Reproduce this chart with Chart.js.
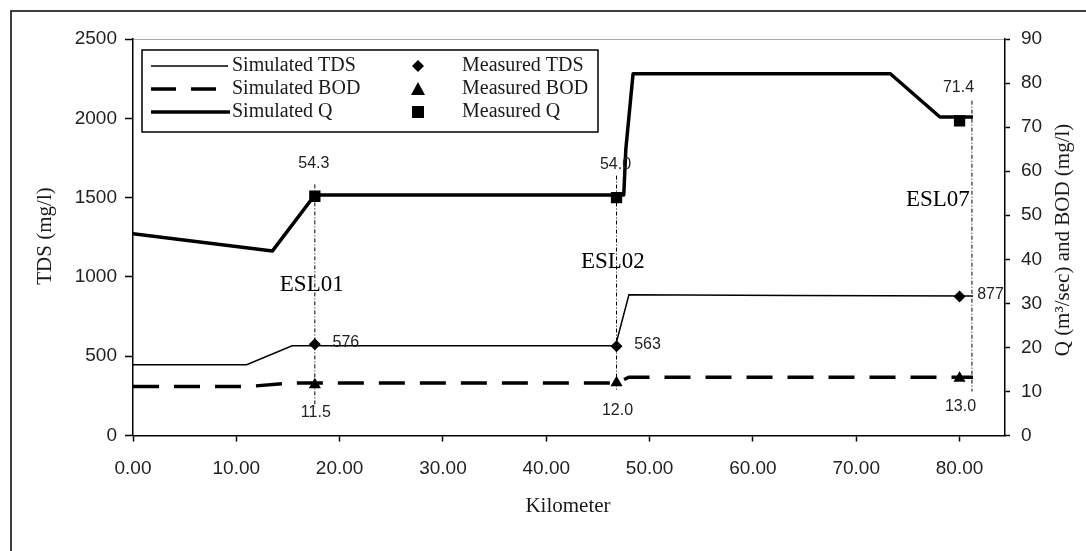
<!DOCTYPE html>
<html><head><meta charset="utf-8">
<script src="https://cdn.jsdelivr.net/npm/chart.js@4.4.0/dist/chart.umd.min.js"></script>
<style>html,body{margin:0;padding:0;background:#fff;}canvas{display:block;}</style>
</head><body>
<canvas id="c" width="1086" height="551"></canvas>
<script>
// ---- data ----
const tdsKm  = [0, 11.0, 15.4, 46.7, 48.0, 64.0, 81.3];
const tdsSim = [446, 446, 566, 566, 887, 883, 879];
const bodKm  = [0, 11.0, 15.4, 46.8, 48.0, 81.3];
const bodSim = [11.1, 11.1, 11.9, 11.9, 13.25, 13.25];
const qKm    = [0, 13.5, 17.6, 47.5, 47.7, 48.4, 73.3, 78.1, 81.3];
const qSim   = [45.8, 41.9, 54.6, 54.6, 65.0, 82.1, 82.1, 72.3, 72.3];
const stations  = ['ESL01', 'ESL02', 'ESL07'];
const stationKm = [17.6, 46.8, 80.0];
const measTDS = [576, 563, 877];
const measBOD = [11.5, 12.0, 13.0];
const measQ   = [54.3, 54.0, 71.4];
const guideKm  = [17.6, 46.8, 81.2];
const guideTop = [57, 59, 76];
const guideBot = [6.5, 10, 10];
const xTickStep = 10, tdsTickStep = 500, qTickStep = 10;

const xy = (xs, ys) => xs.map((x, i) => ({x: x, y: ys[i]}));

const TXT = '#1a1a1a';
const SERIF = '"Liberation Serif", "Times New Roman", serif';
const SANS = '"Liberation Sans", Arial, sans-serif';

const overlay = {
  id: 'overlay',
  beforeDraw(chart) {
    const ctx = chart.ctx, a = chart.chartArea;
    ctx.save();
    ctx.fillStyle = '#fff';
    ctx.fillRect(0, 0, chart.width, chart.height);
    ctx.strokeStyle = '#000'; ctx.lineWidth = 1.5;
    ctx.beginPath(); ctx.moveTo(11, chart.height); ctx.lineTo(11, 11); ctx.lineTo(chart.width, 11); ctx.stroke();
    ctx.strokeStyle = '#a8a8a8'; ctx.lineWidth = 1;
    ctx.beginPath(); ctx.moveTo(a.left, a.top + 0.5); ctx.lineTo(a.right, a.top + 0.5); ctx.stroke();
    ctx.restore();
  },
  afterDraw(chart) {
    const ctx = chart.ctx, xs = chart.scales.x, yL = chart.scales.y, yR = chart.scales.y1;
    ctx.save();
    // value labels
    ctx.font = '16px ' + SANS; ctx.fillStyle = '#222'; ctx.textAlign = 'center'; ctx.textBaseline = 'middle';
    stationKm.forEach((km, i) => {
      const px = xs.getPixelForValue(km);
      ctx.fillText(measQ[i].toFixed(1), px - 1, yR.getPixelForValue(measQ[i]) - 33);
      ctx.fillText(String(measTDS[i]), px + 31, yL.getPixelForValue(measTDS[i]) - 2);
      ctx.fillText(measBOD[i].toFixed(1), px + 1, yR.getPixelForValue(measBOD[i]) + 28);
    });
    // station names
    const stPos = [[17.3, 34.2], [46.45, 39.3], [77.9, 53.5]];
    ctx.font = '23px ' + SERIF; ctx.fillStyle = '#000';
    stations.forEach((s, i) => {
      ctx.fillText(s, xs.getPixelForValue(stPos[i][0]), yR.getPixelForValue(stPos[i][1]));
    });
    // axis titles
    ctx.fillStyle = TXT; ctx.font = '21px ' + SERIF;
    ctx.fillText('Kilometer', 568, 506);
    ctx.save(); ctx.translate(45, 236); ctx.rotate(-Math.PI / 2); ctx.fillText('TDS (mg/l)', 0, 0); ctx.restore();
    ctx.save(); ctx.translate(1063, 240); ctx.rotate(-Math.PI / 2); ctx.fillText('Q (m\u00B3/sec) and BOD (mg/l)', 0, 0); ctx.restore();
    // legend
    const L = {x: 142, y: 50, w: 456, h: 82};
    ctx.fillStyle = '#fff'; ctx.fillRect(L.x, L.y, L.w, L.h);
    ctx.strokeStyle = '#000'; ctx.lineWidth = 1.5; ctx.strokeRect(L.x, L.y, L.w, L.h);
    const rows = [66, 89, 112];
    const simNames = ['Simulated TDS', 'Simulated BOD', 'Simulated Q'];
    const measNames = ['Measured TDS', 'Measured BOD', 'Measured Q'];
    ctx.strokeStyle = '#000';
    ctx.lineWidth = 1.5; ctx.setLineDash([]);
    ctx.beginPath(); ctx.moveTo(151, rows[0]); ctx.lineTo(228, rows[0]); ctx.stroke();
    ctx.lineWidth = 3.5; ctx.setLineDash([25, 15]);
    ctx.beginPath(); ctx.moveTo(151, rows[1]); ctx.lineTo(218, rows[1]); ctx.stroke();
    ctx.setLineDash([]);
    ctx.beginPath(); ctx.moveTo(151, rows[2]); ctx.lineTo(230, rows[2]); ctx.stroke();
    ctx.fillStyle = '#000';
    const mx = 418;
    ctx.beginPath(); ctx.moveTo(mx, rows[0] - 6); ctx.lineTo(mx + 6, rows[0]); ctx.lineTo(mx, rows[0] + 6); ctx.lineTo(mx - 6, rows[0]); ctx.closePath(); ctx.fill();
    ctx.beginPath(); ctx.moveTo(mx, rows[1] - 7); ctx.lineTo(mx + 7, rows[1] + 6); ctx.lineTo(mx - 7, rows[1] + 6); ctx.closePath(); ctx.fill();
    ctx.fillRect(mx - 6, rows[2] - 6, 12, 12);
    ctx.font = '20px ' + SERIF; ctx.fillStyle = TXT; ctx.textAlign = 'left';
    simNames.forEach((t, i) => ctx.fillText(t, 232, rows[i]));
    measNames.forEach((t, i) => ctx.fillText(t, 462, rows[i]));
    ctx.restore();
  }
};

const guideSets = guideKm.map((km, i) => ({
  label: 'guide ' + stations[i], data: [{x: km, y: guideTop[i]}, {x: km, y: guideBot[i]}],
  yAxisID: 'y1', showLine: true, borderColor: '#000', borderWidth: 1, borderDash: [4, 2, 1, 2],
  pointRadius: 0, fill: false
}));

new Chart(document.getElementById('c'), {
  type: 'scatter',
  data: {
    datasets: [
      {label: 'Measured TDS', data: xy(stationKm, measTDS), yAxisID: 'y', pointStyle: 'rectRot', pointRadius: 6, backgroundColor: '#000', borderColor: '#000', borderWidth: 0},
      {label: 'Measured BOD', data: xy(stationKm, measBOD), yAxisID: 'y1', pointStyle: 'triangle', pointRadius: 7, backgroundColor: '#000', borderColor: '#000', borderWidth: 0},
      {label: 'Measured Q', data: xy(stationKm, measQ), yAxisID: 'y1', pointStyle: 'rect', pointRadius: 8, backgroundColor: '#000', borderColor: '#000', borderWidth: 0},
      {label: 'Simulated TDS', data: xy(tdsKm, tdsSim), yAxisID: 'y', showLine: true, borderColor: '#000', borderWidth: 1.5, pointRadius: 0, tension: 0},
      {label: 'Simulated BOD', data: xy(bodKm, bodSim), yAxisID: 'y1', showLine: true, borderColor: '#000', borderWidth: 3.5, borderDash: [26, 15], pointRadius: 0, tension: 0},
      {label: 'Simulated Q', data: xy(qKm, qSim), yAxisID: 'y1', showLine: true, borderColor: '#000', borderWidth: 3.5, pointRadius: 0, tension: 0, borderJoinStyle: 'round'},
      ...guideSets
    ]
  },
  options: {
    responsive: false, animation: false, devicePixelRatio: 1,
    layout: {padding: {top: 39, left: 0, right: 0, bottom: 0}},
    plugins: {legend: {display: false}, tooltip: {enabled: false}},
    scales: {
      x: {
        type: 'linear', min: 0, max: 84.4,
        afterFit(s) { s.height = 115.5; },
        ticks: {stepSize: xTickStep, includeBounds: false, color: '#222', font: {family: SANS, size: 19}, padding: 16, maxRotation: 0,
                callback: v => Number(v).toFixed(2)},
        grid: {drawOnChartArea: false, drawTicks: true, tickLength: 6, color: '#000', tickWidth: 1.5},
        border: {color: '#000', width: 1.5}
      },
      y: {
        type: 'linear', position: 'left', min: 0, max: 2500,
        afterFit(s) { s.width = 133; },
        ticks: {stepSize: tdsTickStep, color: '#222', font: {family: SANS, size: 19}, padding: 8, callback: v => String(v)},
        grid: {drawOnChartArea: false, drawTicks: true, tickLength: 8, color: '#000', tickWidth: 1.5},
        border: {color: '#000', width: 1.5}
      },
      y1: {
        type: 'linear', position: 'right', min: 0, max: 90,
        afterFit(s) { s.width = 81; },
        ticks: {stepSize: qTickStep, color: '#222', font: {family: SANS, size: 19}, padding: 11, callback: v => String(v)},
        grid: {drawOnChartArea: false, drawTicks: true, tickLength: 5, color: '#000', tickWidth: 1.5},
        border: {color: '#000', width: 1.5}
      }
    }
  },
  plugins: [overlay]
});
</script>
</body></html>
